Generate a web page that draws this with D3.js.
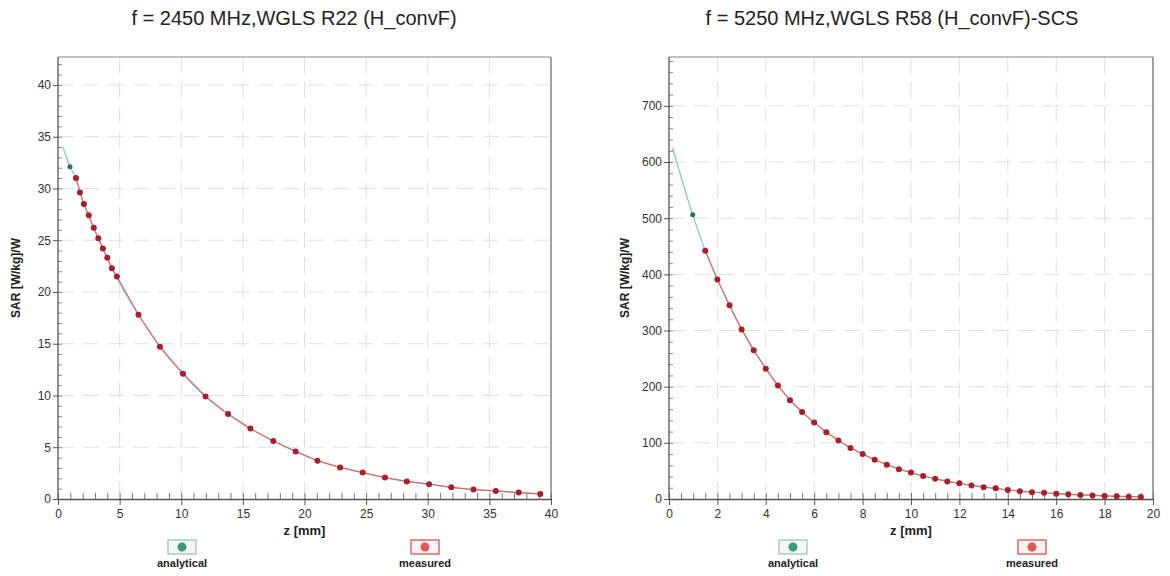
<!DOCTYPE html>
<html>
<head>
<meta charset="utf-8">
<script src="https://cdn.jsdelivr.net/npm/d3@7"></script>
<style>
body{margin:0;background:#fff;font-family:"Liberation Sans",Arial,sans-serif;}
.tick text{font-family:"Liberation Sans",Arial,sans-serif;}
</style>
</head>
<body>
<svg id="chart" width="1170" height="576"></svg>
<script>

// ---- left chart: 2450 MHz ----
var leftTitle = "f = 2450 MHz,WGLS R22 (H_convF)";
var leftXTicks = [0,5,10,15,20,25,30,35,40];
var leftYTicks = [0,5,10,15,20,25,30,35,40];
var leftMeasZ = [1.46,1.78,2.1,2.5,2.9,3.27,3.64,4.0,4.37,4.78,6.53,8.27,10.14,11.97,13.8,15.61,17.47,19.28,21.05,22.89,24.72,26.53,28.3,30.11,31.91,33.71,35.52,37.38,39.13];
var leftMeasSar = [31.0,29.6,28.5,27.4,26.2,25.2,24.2,23.3,22.3,21.5,17.8,14.7,12.1,9.9,8.2,6.8,5.6,4.6,3.7,3.05,2.55,2.07,1.7,1.43,1.13,0.91,0.78,0.62,0.49];
var leftAnaZ = [0.4,0.97,1.46,2.1,2.9,3.64,4.37,6.53,8.27,10.14,11.97,13.8,15.61,17.47,19.28,21.05,22.89,24.72,26.53,28.3,30.11,31.91,33.71,35.52,37.38,39.13];
var leftAnaSar = [34.0,32.1,31.0,28.5,26.2,24.2,22.3,17.8,14.7,12.1,9.9,8.2,6.8,5.6,4.6,3.7,3.05,2.55,2.07,1.7,1.43,1.13,0.91,0.78,0.62,0.49];

// ---- right chart: 5250 MHz ----
var rightTitle = "f = 5250 MHz,WGLS R58 (H_convF)-SCS";
var rightXTicks = [0,2,4,6,8,10,12,14,16,18,20];
var rightYTicks = [0,100,200,300,400,500,600,700];
var rightMeasZ = [1.5,2,2.5,3,3.5,4,4.5,5,5.5,6,6.5,7,7.5,8,8.5,9,9.5,10,10.5,11,11.5,12,12.5,13,13.5,14,14.5,15,15.5,16,16.5,17,17.5,18,18.5,19,19.5];
var rightMeasSar = [442,391,345,302,265,232,202,176,155,136,119,104,91,80,70,61,53,47,41,36,31,28,24,21,19,16,14,12,11,9.5,8.3,7.2,6.3,5.5,4.8,4.2,3.7];
var rightAnaZ = [0.15,0.98,1.5,2,3,4,5,6,8,10,12,14,16,18,19.5];
var rightAnaSar = [625,506,442,391,302,232,176,136,80,47,28,16,9.5,5.5,3.7];

var legendNames = ["analytical","measured"];

var svg = d3.select("#chart");

function drawChart(cfg){

	var x = d3.scaleLinear().domain([0, cfg.xMax]).range([cfg.left, cfg.right]);
	var y = d3.scaleLinear().domain([0, cfg.yMax]).range([cfg.bottom, cfg.top]);

	var g = svg.append("g").attr("class","panel");

	// title
	g.append("text")
		.attr("x", cfg.titleX).attr("y", 25)
		.style("text-anchor","middle")
		.style("font-size","20px")
		.style("fill","#222")
		.text(cfg.title);

	// grid
	g.selectAll(".vgrid")
		.data(cfg.xTicks.filter(function(d){return d>0 && d<cfg.xMax;}))
		.enter().append("line")
		.attr("x1",function(d){return x(d);}).attr("x2",function(d){return x(d);})
		.attr("y1",cfg.top).attr("y2",cfg.bottom)
		.style("stroke","#e0e0e0").style("stroke-dasharray","16,9");

	g.selectAll(".hgrid")
		.data(cfg.yTicks.filter(function(d){return d>0;}))
		.enter().append("line")
		.attr("x1",cfg.left).attr("x2",cfg.right)
		.attr("y1",function(d){return y(d);}).attr("y2",function(d){return y(d);})
		.style("stroke","#e0e0e0").style("stroke-dasharray","16,9");

	// frame top / right
	g.append("line").attr("x1",cfg.left).attr("x2",cfg.right).attr("y1",cfg.top).attr("y2",cfg.top)
		.style("stroke","#888").style("stroke-width","1.2px");
	g.append("line").attr("x1",cfg.right).attr("x2",cfg.right).attr("y1",cfg.top).attr("y2",cfg.bottom)
		.style("stroke","#666").style("stroke-width","1.2px");

	// minor ticks
	var yMinor = d3.range(0, cfg.yMax, cfg.yMinorStep);
	var xMinor = d3.range(0, cfg.xMax + 0.001, cfg.xMinorStep);

	g.append("g")
		.attr("transform","translate("+cfg.left+",0)")
		.call(d3.axisRight(y).tickValues(yMinor).tickSize(4).tickFormat(""))
		.call(function(s){ s.select(".domain").remove(); s.selectAll("line").style("stroke","#888"); });

	g.append("g")
		.attr("transform","translate(0,"+cfg.bottom+")")
		.call(d3.axisTop(x).tickValues(xMinor).tickSize(6).tickFormat(""))
		.call(function(s){ s.select(".domain").remove(); s.selectAll("line").style("stroke","#777"); });

	// main axes
	var yAxis = g.append("g")
		.attr("transform","translate("+cfg.left+",0)")
		.call(d3.axisLeft(y).tickValues(cfg.yTicks).tickSize(5).tickSizeOuter(0).tickPadding(2));
	yAxis.select(".domain").attr("d","M0,"+cfg.top+"V"+cfg.bottom).style("stroke","#555").style("stroke-width","1.3px");

	var xAxis = g.append("g")
		.attr("transform","translate(0,"+cfg.bottom+")")
		.call(d3.axisBottom(x).tickValues(cfg.xTicks).tickSize(6).tickSizeOuter(0).tickPadding(4));
	xAxis.select(".domain").style("stroke","#555").style("stroke-width","1.3px");

	[yAxis, xAxis].forEach(function(a){
		a.selectAll(".tick line").style("stroke","#555");
		a.selectAll(".tick text").style("font-size","12px").style("fill","#333");
	});

	// axis titles
	g.append("text")
		.attr("x",(cfg.left+cfg.right)/2).attr("y",535)
		.style("text-anchor","middle").style("font-size","13px").style("font-weight","bold").style("fill","#222")
		.text("z [mm]");

	g.append("text")
		.attr("transform","translate("+cfg.yLabelX+",278) rotate(-90)")
		.style("text-anchor","middle").style("font-size","12px").style("font-weight","bold").style("fill","#222")
		.text("SAR [W/kg]/W");

	// series
	var ana = cfg.anaZ.map(function(z,i){return {z:z, v:cfg.anaSar[i]};});
	var meas = cfg.measZ.map(function(z,i){return {z:z, v:cfg.measSar[i]};});

	g.append("path")
		.datum(ana)
		.attr("d", d3.line().curve(d3.curveMonotoneX).x(function(d){return x(d.z);}).y(function(d){return y(d.v);}))
		.style("fill","none").style("stroke","#74cfc0").style("stroke-width","1.2px");

	g.selectAll(".anaDot")
		.data(ana.slice(1))
		.enter().append("circle")
		.attr("cx",function(d){return x(d.z);}).attr("cy",function(d){return y(d.v);})
		.attr("r",2.5).style("fill","#2f6f5c");

	g.append("path")
		.datum(meas)
		.attr("d", d3.line().x(function(d){return x(d.z);}).y(function(d){return y(d.v);}))
		.style("fill","none").style("stroke","#e26a6a").style("stroke-width","1.2px");

	g.selectAll(".measDot")
		.data(meas)
		.enter().append("circle")
		.attr("cx",function(d){return x(d.z);}).attr("cy",function(d){return y(d.v);})
		.attr("r",3).style("fill","#a8202c");

	// legend
	var legColors = [{stroke:"#9cbfb4", fill:"#f3f8f6", dot:"#3f9a7c"}, {stroke:"#d84545", fill:"#fdf3f3", dot:"#e25858"}];
	legendNames.forEach(function(name,i){
		var cx = cfg.legendX[i];
		g.append("rect")
			.attr("x",cx-14).attr("y",540).attr("width",28).attr("height",14)
			.style("fill",legColors[i].fill).style("stroke",legColors[i].stroke).style("stroke-width","1.2px");
		g.append("circle").attr("cx",cx).attr("cy",547).attr("r",4.5).style("fill",legColors[i].dot);
		g.append("text")
			.attr("x",cx).attr("y",567)
			.style("text-anchor","middle").style("font-size","11px").style("font-weight","bold").style("fill","#222")
			.text(name);
	});
}

drawChart({
	title:leftTitle, titleX:294,
	left:58, right:551, top:57, bottom:499,
	xMax:40, yMax:42.7, xTicks:leftXTicks, yTicks:leftYTicks,
	xMinorStep:1, yMinorStep:1,
	measZ:leftMeasZ, measSar:leftMeasSar, anaZ:leftAnaZ, anaSar:leftAnaSar,
	legendX:[182,425], yLabelX:20
});

drawChart({
	title:rightTitle, titleX:892,
	left:669, right:1153, top:57, bottom:499,
	xMax:20, yMax:787, xTicks:rightXTicks, yTicks:rightYTicks,
	xMinorStep:0.5, yMinorStep:20,
	measZ:rightMeasZ, measSar:rightMeasSar, anaZ:rightAnaZ, anaSar:rightAnaSar,
	legendX:[793,1032], yLabelX:629
});

</script>
</body>
</html>
